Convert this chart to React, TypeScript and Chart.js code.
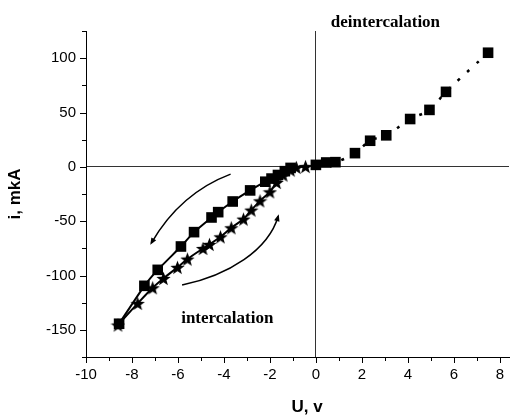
import React, { useEffect, useRef } from 'react';
import { Chart, registerables } from 'chart.js';
Chart.register(...registerables);

// deintercalation branch (dotted line, squares)
const deintU = [0, 0.45, 0.85, 1.7, 2.36, 3.06, 4.1, 4.94, 5.66, 7.49];
const deintI = [1.8, 4, 4.3, 12.6, 24, 29, 44, 52.4, 69, 105];

// intercalation, squares branch
const sqU = [-1.1, -1.35, -1.65, -1.93, -2.2, -2.86, -3.62, -4.25, -4.54, -5.3, -5.87, -6.88, -7.46, -8.56];
const sqI = [-1, -4, -7.5, -10.8, -13.7, -21.7, -31.9, -41.7, -46.6, -60.1, -73.3, -94.8, -109.5, -144.4];

// intercalation, stars branch
const starU = [-0.45, -0.85, -1.1, -1.42, -1.71, -2.0, -2.43, -2.81, -3.15, -3.68, -4.15, -4.63, -4.91, -5.59, -6.02, -6.63, -7.1, -7.75, -8.61];
const starI = [0.3, -0.5, -3, -7.6, -14.4, -23, -31.3, -39.8, -48.1, -56.1, -64.4, -71.4, -75.1, -84.9, -92.5, -102.7, -111.3, -125.7, -145.6];

// axis ranges / ticks
const xMin = -10, xMax = 8.4, xStep = 1;
const yMin = -175, yMax = 125, yStep = 25;

// arrows (data coordinates): [start, control1, control2, end]
const arrowUpper = [[-3.71, -6.7], [-5.0, -17], [-6.2, -35], [-7.16, -70.2]];
const arrowLower = [[-5.82, -108.8], [-3.79, -99.6], [-2.07, -76.6], [-1.64, -45.4]];

// annotation texts (data coordinates of left/baseline)
const labelDeint = { text: 'deintercalation', u: 0.65, i: 128.5 };
const labelInt = { text: 'intercalation', u: -5.86, i: -143.8 };

function makeStar(size: number) {
  const c = document.createElement('canvas');
  c.width = size; c.height = size;
  const g = c.getContext('2d')!;
  const cx = size / 2, cy = size / 2 + 0.7;
  const R = size / 2, r = R * 0.42;
  g.beginPath();
  for (let k = 0; k < 10; k++) {
    const a = -Math.PI / 2 + (k * Math.PI) / 5;
    const rr = k % 2 === 0 ? R : r;
    const px = cx + rr * Math.cos(a), py = cy + rr * Math.sin(a);
    if (k === 0) g.moveTo(px, py); else g.lineTo(px, py);
  }
  g.closePath();
  g.fillStyle = '#000';
  g.fill();
  return c;
}

const pts = (xs: number[], ys: number[]) => xs.map((x, k) => ({ x, y: ys[k] }));

export default function App() {
  const ref = useRef<HTMLCanvasElement>(null);
  useEffect(() => {
    const star = makeStar(15);
    const deco = {
      id: 'deco',
      afterDraw(chart: any) {
        const ctx = chart.ctx as CanvasRenderingContext2D;
        const xs = chart.scales.x, ys = chart.scales.y;
        const ca = chart.chartArea;
        ctx.save();
        ctx.strokeStyle = '#000';
        ctx.lineWidth = 1;
        // ticks
        for (let v = xMin; v <= xMax + 1e-9; v += xStep) {
          const p = Math.round(xs.getPixelForValue(v)) + 0.5;
          const len = Math.round(v) % 2 === 0 ? 6 : 4;
          ctx.beginPath(); ctx.moveTo(p, ca.bottom); ctx.lineTo(p, ca.bottom + len); ctx.stroke();
        }
        for (let v = yMin; v <= yMax + 1e-9; v += yStep) {
          const p = Math.round(ys.getPixelForValue(v)) + 0.5;
          const len = v % 50 === 0 ? 6 : 4;
          ctx.beginPath(); ctx.moveTo(ca.left, p); ctx.lineTo(ca.left - len, p); ctx.stroke();
        }
        // arrows
        ctx.lineWidth = 1.5;
        for (const a of [arrowUpper, arrowLower]) {
          const P = a.map(([u, i]) => [xs.getPixelForValue(u), ys.getPixelForValue(i)]);
          ctx.beginPath();
          ctx.moveTo(P[0][0], P[0][1]);
          ctx.bezierCurveTo(P[1][0], P[1][1], P[2][0], P[2][1], P[3][0], P[3][1]);
          ctx.stroke();
          const dx = P[3][0] - P[2][0], dy = P[3][1] - P[2][1];
          const L = Math.hypot(dx, dy);
          const ux = dx / L, uy = dy / L;
          const hl = 7, hw = 2.8;
          const bx = P[3][0] + ux * 2, by = P[3][1] + uy * 2;
          ctx.beginPath();
          ctx.moveTo(bx, by);
          ctx.lineTo(bx - ux * hl - uy * hw, by - uy * hl + ux * hw);
          ctx.lineTo(bx - ux * hl + uy * hw, by - uy * hl - ux * hw);
          ctx.closePath();
          ctx.fillStyle = '#000';
          ctx.fill();
        }
        // annotation text
        ctx.fillStyle = '#000';
        ctx.font = 'bold 17px "Liberation Serif", "Times New Roman", serif';
        ctx.textAlign = 'left';
        ctx.textBaseline = 'alphabetic';
        for (const l of [labelDeint, labelInt]) {
          ctx.fillText(l.text, xs.getPixelForValue(l.u), ys.getPixelForValue(l.i));
        }
        // axis titles
        ctx.font = 'bold 17px "Liberation Sans", Arial, sans-serif';
        ctx.textAlign = 'center';
        ctx.textBaseline = 'middle';
        ctx.fillText('U, v', 307, 407);
        ctx.save();
        ctx.translate(15, (ca.top + ca.bottom) / 2);
        ctx.rotate(-Math.PI / 2);
        ctx.fillText('i, mkA', 0, 0);
        ctx.restore();
        ctx.restore();
      },
    };

    const tickFont = { family: '"Liberation Sans", Arial, sans-serif', size: 15 };
    const chart = new Chart(ref.current!, {
      type: 'scatter',
      data: {
        datasets: [
          {
            data: pts(deintU, deintI),
            showLine: true,
            borderColor: '#000',
            borderWidth: 2.5,
            borderDash: [3, 10],
            tension: 0.4,
            pointStyle: 'rect',
            pointRadius: 7.5,
            pointBackgroundColor: '#000',
            pointBorderWidth: 0,
          },
          {
            data: pts(starU, starI),
            showLine: true,
            borderColor: '#000',
            borderWidth: 2,
            tension: 0.35,
            pointStyle: star as any,
            pointRadius: 7,
          },
          {
            data: pts(sqU, sqI),
            showLine: true,
            borderColor: '#000',
            borderWidth: 2,
            tension: 0.2,
            pointStyle: 'rect',
            pointRadius: 7.5,
            pointBackgroundColor: '#000',
            pointBorderWidth: 0,
          },
        ],
      },
      options: {
        animation: false,
        responsive: true,
        maintainAspectRatio: false,
        layout: { padding: { top: 31, right: 1, left: 0, bottom: 0 } },
        plugins: { legend: { display: false }, tooltip: { enabled: false } },
        scales: {
          x: {
            type: 'linear',
            min: xMin,
            max: xMax,
            afterFit: (s: any) => { s.height = 59; s.paddingLeft = 0; s.paddingRight = 0; },
            ticks: {
              stepSize: xStep,
              includeBounds: false,
              autoSkip: false,
              maxRotation: 0,
              padding: 3,
              color: '#000',
              font: tickFont,
              callback: (v: any) => (Number.isInteger(v) && v % 2 === 0 ? String(v) : ''),
            },
            grid: {
              color: (c: any) => (c.tick && c.tick.value === 0 ? '#333' : 'rgba(0,0,0,0)'),
              lineWidth: 1,
              tickLength: 6,
              tickColor: 'rgba(0,0,0,0)',
            },
            border: { color: '#000', width: 1 },
          },
          y: {
            type: 'linear',
            min: yMin,
            max: yMax,
            afterFit: (s: any) => { s.width = 86; s.paddingTop = 0; s.paddingBottom = 0; },
            ticks: {
              stepSize: yStep,
              autoSkip: false,
              padding: 4,
              color: '#000',
              font: tickFont,
              callback: (v: any) => (v % 50 === 0 ? String(v) : ''),
            },
            grid: {
              color: (c: any) => (c.tick && c.tick.value === 0 ? '#333' : 'rgba(0,0,0,0)'),
              lineWidth: 1,
              tickLength: 6,
              tickColor: 'rgba(0,0,0,0)',
            },
            border: { color: '#000', width: 1 },
          },
        },
      },
      plugins: [deco],
    });
    return () => chart.destroy();
  }, []);
  return (
    <div style={{ position: 'fixed', left: 0, top: 0, width: 518, height: 416, background: '#fff' }}>
      <canvas ref={ref} />
    </div>
  );
}
